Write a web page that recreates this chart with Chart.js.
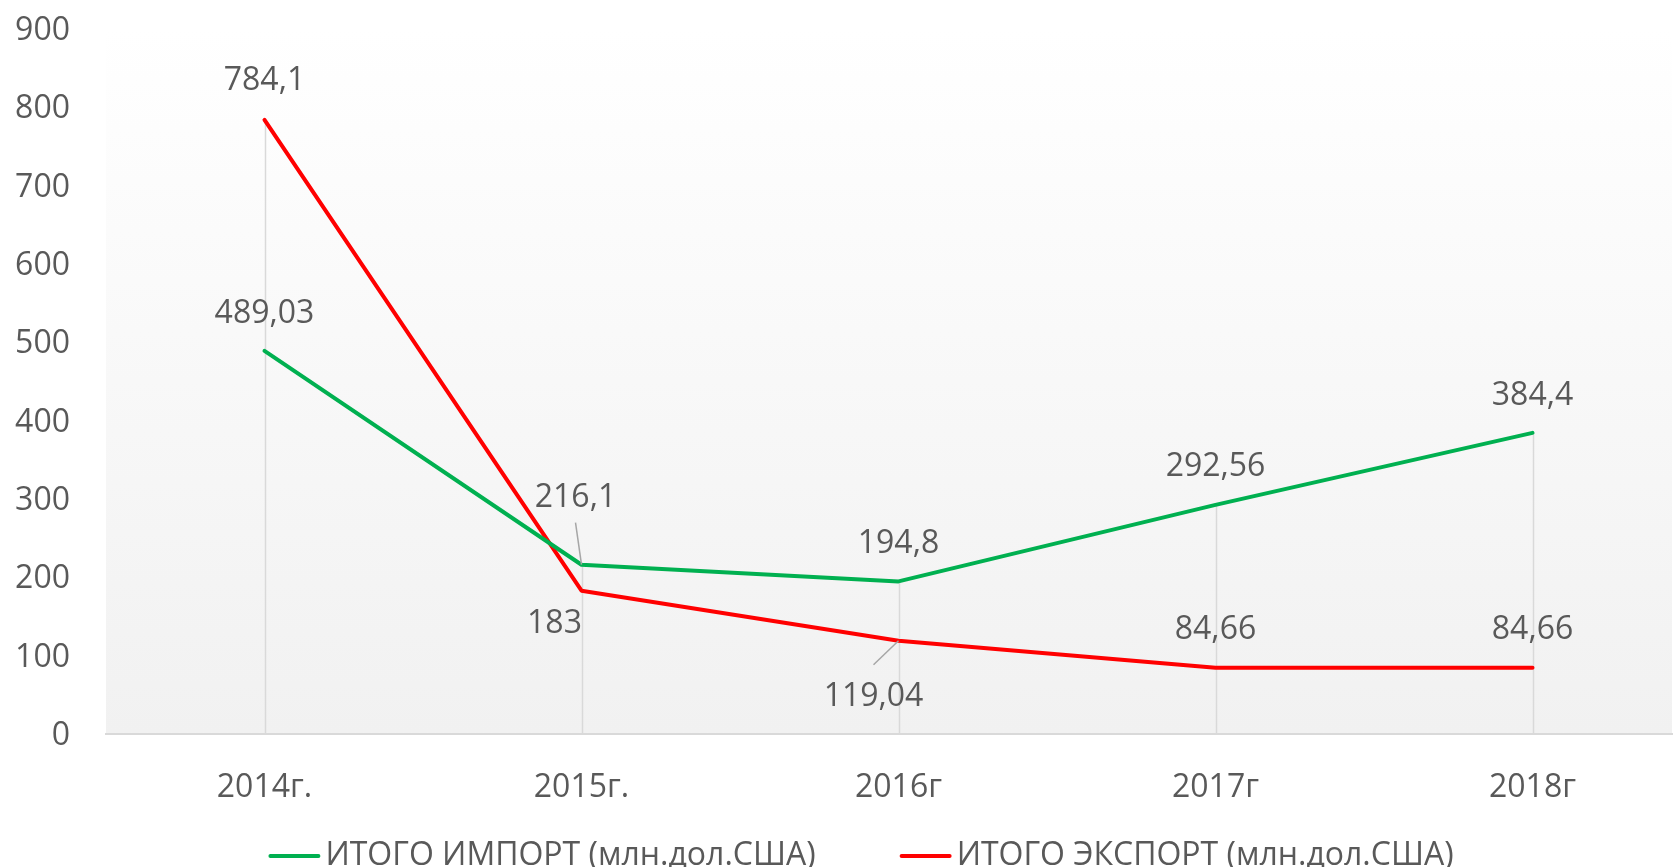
<!DOCTYPE html>
<html>
<head>
<meta charset="utf-8">
<script src="https://cdn.jsdelivr.net/npm/chart.js@4.4.0/dist/chart.umd.min.js"></script>
<style>
  html, body { margin: 0; padding: 0; background: #fff; }
  #wrap { width: 1677px; height: 867px; }
</style>
</head>
<body>
<div id="wrap"><canvas id="tradeChart" width="1677" height="867"></canvas></div>
<script>
// --- data ---
const years = ['2014г.', '2015г.', '2016г', '2017г', '2018г'];
const importTotals = [489.03, 216.1, 194.8, 292.56, 384.4];
const exportTotals = [784.1, 183, 119.04, 84.66, 84.66];
const seriesNames = ['ИТОГО ИМПОРТ (млн.дол.США)', 'ИТОГО ЭКСПОРТ (млн.дол.США)'];
const yMax = 900;
const yStep = 100;

const FONT = '"Open Sans", "Noto Sans", sans-serif';
const FONT_SIZE = 32;
const TEXT = '#595959';

// label placement per point (offset from the point, optional leader start)
const importLabelPlace = [
    { dx: 0, dy: -37 },
    { dx: -6, dy: -67, lead: [-6, -42] },
    { dx: 0, dy: -38 },
    { dx: 0, dy: -38 },
    { dx: 0, dy: -37 }
];
const exportLabelPlace = [
    { dx: 0, dy: -39 },
    { dx: -27, dy: 33 },
    { dx: -25, dy: 56, lead: [-25, 24] },
    { dx: 0, dy: -38 },
    { dx: 0, dy: -38 }
];

const fmt = v => String(v).replace('.', ',');
const toPoints = arr => arr.map((v, i) => ({ x: i, y: v }));

const plotBackground = {
    id: 'plotBackground',
    beforeDraw(chart) {
        const { ctx, chartArea: a } = chart;
        const g = ctx.createLinearGradient(0, a.top, 0, a.bottom);
        g.addColorStop(0, '#ffffff');
        g.addColorStop(1, '#f1f1f1');
        ctx.save();
        ctx.fillStyle = g;
        ctx.fillRect(a.left, a.top, a.right - a.left, a.bottom - a.top);
        ctx.restore();
    }
};

// vertical drop lines from the highest point of each category down to the axis
const dropLines = {
    id: 'dropLines',
    beforeDatasetsDraw(chart) {
        const { ctx, scales: { x, y } } = chart;
        ctx.save();
        ctx.strokeStyle = '#d9d9d9';
        ctx.lineWidth = 1.5;
        years.forEach((_, i) => {
            const top = Math.max(...chart.data.datasets.map(d => d.data[i].y));
            const px = Math.round(x.getPixelForValue(i)) + 0.5;
            ctx.beginPath();
            ctx.moveTo(px, y.getPixelForValue(top));
            ctx.lineTo(px, y.getPixelForValue(0));
            ctx.stroke();
        });
        ctx.restore();
    }
};

const valueLabels = {
    id: 'valueLabels',
    afterDatasetsDraw(chart) {
        const { ctx } = chart;
        ctx.save();
        ctx.font = FONT_SIZE + 'px ' + FONT;
        ctx.fillStyle = TEXT;
        ctx.textAlign = 'center';
        ctx.textBaseline = 'middle';
        chart.data.datasets.forEach((ds, di) => {
            chart.getDatasetMeta(di).data.forEach((pt, i) => {
                const place = ds.labelPlace[i];
                if (place.lead) {
                    ctx.strokeStyle = '#a6a6a6';
                    ctx.lineWidth = 1.5;
                    ctx.beginPath();
                    ctx.moveTo(pt.x + place.lead[0], pt.y + place.lead[1]);
                    ctx.lineTo(pt.x, pt.y);
                    ctx.stroke();
                }
                ctx.fillText(fmt(ds.data[i].y), pt.x + place.dx, pt.y + place.dy);
            });
        });
        ctx.restore();
    }
};

// legend drawn by hand: long line sample, tight gap to the text
const lineLegend = {
    id: 'lineLegend',
    afterDraw(chart) {
        const { ctx } = chart;
        const sample = 52, gap = 5, between = 84, cy = 856;
        ctx.save();
        ctx.font = FONT_SIZE + 'px ' + FONT;
        const items = chart.data.datasets.map(d => ({
            text: d.label, color: d.borderColor,
            w: sample + gap + ctx.measureText(d.label).width
        }));
        const total = items.reduce((s, it) => s + it.w, 0) + between * (items.length - 1);
        let x = 861 - total / 2;
        ctx.textBaseline = 'middle';
        ctx.textAlign = 'left';
        items.forEach(it => {
            ctx.strokeStyle = it.color;
            ctx.lineWidth = 4;
            ctx.lineCap = 'round';
            ctx.beginPath();
            ctx.moveTo(x + 2, cy);
            ctx.lineTo(x + sample - 2, cy);
            ctx.stroke();
            ctx.fillStyle = TEXT;
            ctx.fillText(it.text, x + sample + gap, cy);
            x += it.w + between;
        });
        ctx.restore();
    }
};

Chart.defaults.font.family = FONT;
Chart.defaults.font.size = FONT_SIZE;
Chart.defaults.color = TEXT;

new Chart(document.getElementById('tradeChart'), {
    type: 'line',
    data: {
        datasets: [
            {
                label: seriesNames[0],
                data: toPoints(importTotals),
                borderColor: '#00b050',
                labelPlace: importLabelPlace
            },
            {
                label: seriesNames[1],
                data: toPoints(exportTotals),
                borderColor: '#ff0000',
                labelPlace: exportLabelPlace
            }
        ]
    },
    options: {
        responsive: false,
        animation: false,
        layout: { padding: { top: 29, right: 5, left: 0, bottom: 0 } },
        elements: {
            line: { borderWidth: 4, tension: 0, borderCapStyle: 'round', borderJoinStyle: 'round' },
            point: { radius: 0, hoverRadius: 0 }
        },
        scales: {
            x: {
                type: 'linear',
                min: -0.5,
                max: 4.44,
                grid: { display: false },
                border: { display: true, color: '#d9d9d9', width: 2 },
                afterBuildTicks: axis => { axis.ticks = years.map((_, i) => ({ value: i })); },
                afterFit: axis => { axis.height = 133; },
                ticks: {
                    autoSkip: false,
                    maxRotation: 0,
                    padding: 27,
                    color: TEXT,
                    callback: v => years[v]
                }
            },
            y: {
                min: 0,
                max: yMax,
                grid: { display: false, drawTicks: false },
                border: { display: false },
                afterFit: axis => {
                    axis.width = 106;
                    // keep the label gap from pushing the plot top down
                    axis.paddingTop = 20;
                    axis.paddingBottom = 0;
                },
                ticks: { stepSize: yStep, padding: 36, labelOffset: 2, color: TEXT }
            }
        },
        plugins: {
            legend: { display: false },
            tooltip: { enabled: false }
        }
    },
    plugins: [plotBackground, dropLines, valueLabels, lineLegend]
});
</script>
</body>
</html>
